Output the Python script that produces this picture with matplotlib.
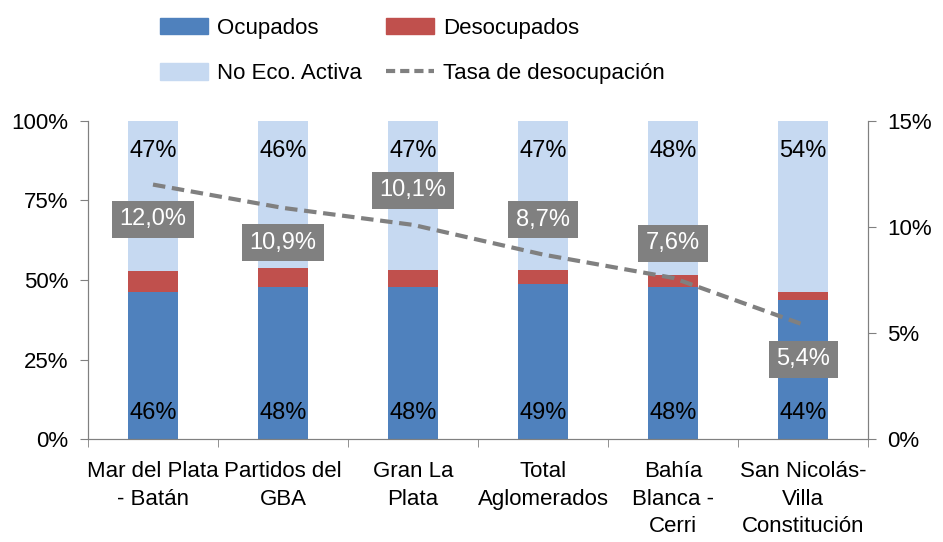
import numpy as np
import matplotlib.pyplot as plt
from matplotlib.patches import Patch
from matplotlib.lines import Line2D

plt.rcParams['font.family'] = ['Liberation Sans', 'DejaVu Sans']

categorias = ["Mar del Plata\n- Batán", "Partidos del\nGBA", "Gran La\nPlata",
              "Total\nAglomerados", "Bahía\nBlanca -\nCerri", "San Nicolás-\nVilla\nConstitución"]
ocupados = [46.3, 47.9, 47.9, 48.7, 47.9, 43.6]
desocupados = [6.4, 6.0, 5.3, 4.5, 3.8, 2.5]
no_activa = [47.3, 46.1, 46.8, 46.8, 48.3, 53.9]
tasa = [12.0, 10.9, 10.1, 8.7, 7.6, 5.4]
tasa_txt = ["12,0%", "10,9%", "10,1%", "8,7%", "7,6%", "5,4%"]
# donde va la etiqueta de la tasa: -1 abajo, 1 arriba
lado = [-1, -1, 1, 1, 1, -1]

c_ocu = '#4f81bd'
c_des = '#c0504d'
c_no = '#c6d9f1'
c_gris = '#808080'

x = np.arange(len(categorias))
ocu = np.array(ocupados)
des = np.array(desocupados)

fig = plt.figure(figsize=(9.43, 5.42), dpi=100)
ax = fig.add_axes([0.0933, 0.19, 0.8272, 0.5868])
ax.bar(x, ocu, width=0.39, color=c_ocu)
ax.bar(x, des, width=0.39, bottom=ocu, color=c_des)
ax.bar(x, no_activa, width=0.39, bottom=ocu + des, color=c_no)

for i in range(len(x)):
    ax.text(x[i], 8.3, "%d%%" % round(ocupados[i]), ha='center', va='center', fontsize=17)
    ax.text(x[i], 90.5, "%d%%" % round(no_activa[i]), ha='center', va='center', fontsize=17)

ax.set_xlim(-0.5, len(x) - 0.5)
ax.set_ylim(0, 100)
ax.set_yticks([0, 25, 50, 75, 100])
ax.set_yticklabels(["0%", "25%", "50%", "75%", "100%"], fontsize=16)
ax.set_xticks(x)
ax.set_xticklabels(categorias, fontsize=16, linespacing=1.4)
ax.set_xticks(np.arange(-0.5, len(x)), minor=True)
ax.tick_params(axis='x', which='major', length=0, pad=16)
ax.tick_params(axis='x', which='minor', length=6, color=c_gris)
ax.tick_params(axis='y', length=6, color=c_gris, pad=8)

ax2 = ax.twinx()
ax2.plot(x, tasa, linestyle=(0, (3, 1.6)), color=c_gris, linewidth=3)
for i in range(len(x)):
    ax2.annotate(tasa_txt[i], (x[i], tasa[i]), xytext=(0, 25 * lado[i]),
                 textcoords='offset points', ha='center', va='center',
                 fontsize=17, color='white',
                 bbox=dict(boxstyle='square,pad=0.32', fc=c_gris, ec='none'))
ax2.set_ylim(0, 15)
ax2.set_yticks([0, 5, 10, 15])
ax2.set_yticklabels(["0%", "5%", "10%", "15%"], fontsize=16)
ax2.tick_params(axis='y', length=6, color=c_gris, pad=8)

for a in (ax, ax2):
    for s in a.spines.values():
        s.set_color(c_gris)
    a.spines['top'].set_visible(False)

handles = [Patch(color=c_ocu), Patch(color=c_no), Patch(color=c_des),
           Line2D([0], [0], color=c_gris, linestyle=(0, (2.2, 1.2)), linewidth=3)]
labels = ["Ocupados", "No Eco. Activa", "Desocupados", "Tasa de desocupación"]
fig.legend(handles, labels, ncol=2, loc='upper left', bbox_to_anchor=(0.148, 1.004),
           frameon=False, fontsize=16, handlelength=2.2, handleheight=0.75,
           columnspacing=1.05, labelspacing=1.1, handletextpad=0.4)

plt.savefig('out.png', dpi=100)
